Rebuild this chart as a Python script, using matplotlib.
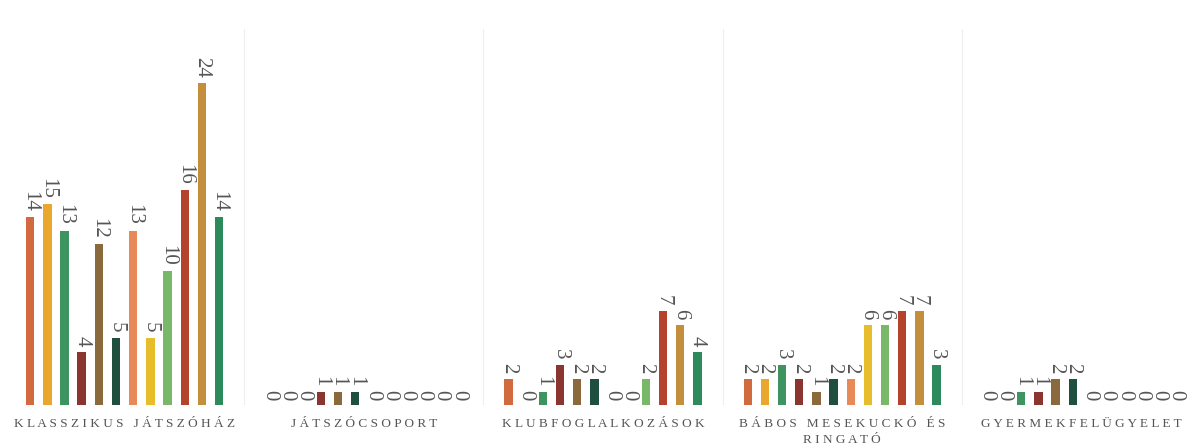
import matplotlib.pyplot as plt
import numpy as np

# categories and series values (12 series per category)
categories = ["KLASSZIKUS JÁTSZÓHÁZ", "JÁTSZÓCSOPORT", "KLUBFOGLALKOZÁSOK",
              "BÁBOS MESEKUCKÓ ÉS\nRINGATÓ", "GYERMEKFELÜGYELET"]
values = [
    [14, 15, 13, 4, 12, 5, 13, 5, 10, 16, 24, 14],
    [0, 0, 0, 1, 1, 1, 0, 0, 0, 0, 0, 0],
    [2, 0, 1, 3, 2, 2, 0, 0, 2, 7, 6, 4],
    [2, 2, 3, 2, 1, 2, 2, 6, 6, 7, 7, 3],
    [0, 0, 1, 1, 2, 2, 0, 0, 0, 0, 0, 0],
]
colors = ["#d26a40", "#e9a72e", "#3d9460", "#8a3530", "#8a6a3c", "#1f4f3e",
          "#e88a58", "#e8bd2c", "#78b868", "#b5422c", "#c38f3c", "#2d8a5c"]

def spaced(s):
    # mimic the wide letter spacing of the original labels
    return "\n".join(" ".join(ch for ch in line) for line in s.split("\n"))

plt.rcParams['font.family'] = ['Liberation Serif', 'DejaVu Serif']
fig = plt.figure(figsize=(11.89, 4.48), dpi=100)
ax = fig.add_axes([5 / 1189, 0.095, 1196 / 1189, 0.84])

n = len(colors)
pitch = 0.0718
width = 0.035
x = np.arange(len(categories))
vals = np.array(values)
for i in range(n):
    pos = x + (i - (n - 1) / 2) * pitch
    bars = ax.bar(pos, vals[:, i], width=width, color=colors[i], zorder=3)
    for b, v in zip(bars, vals[:, i]):
        ax.text(b.get_x() + b.get_width() / 2, v + 0.4, str(v), rotation=-90,
                ha='center', va='bottom', fontsize=15, color='#555555')

for k in range(1, len(categories)):
    ax.axvline(k - 0.5, color='#eeeeee', lw=0.8, zorder=0)
ax.axhline(0, color='#e4e4e4', lw=0.8, ls=(0, (2, 2)), zorder=1)

ax.set_xlim(-0.5, len(categories) - 0.5)
ax.set_ylim(0, 28)
ax.set_xticks(x)
ax.set_xticklabels([spaced(c) for c in categories], fontsize=9.5, color='#555555',
                   linespacing=1.4)
ax.tick_params(axis='x', length=0, pad=9)
ax.set_yticks([])
for s in ax.spines.values():
    s.set_visible(False)

fig.savefig("out.png", dpi=100)
